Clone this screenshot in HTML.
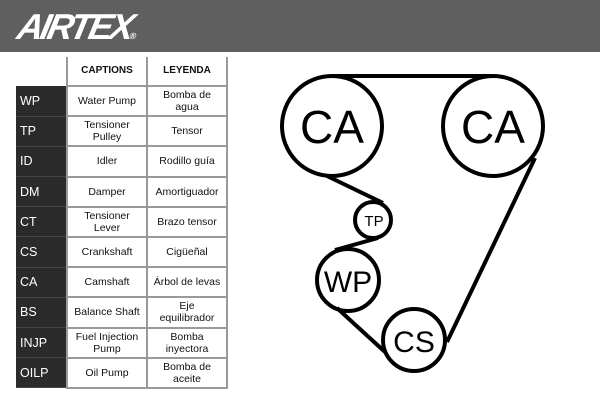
<!DOCTYPE html>
<html><head><style>
*{margin:0;padding:0;box-sizing:border-box}
body{width:600px;height:400px;background:#fff;position:relative;overflow:hidden;font-family:"Liberation Sans",sans-serif}
.band{position:absolute;left:0;top:0;width:600px;height:52px;background:#5f5f5f}
.logo{position:absolute;left:18px;top:6px;color:#fff;font:italic bold 36px "Liberation Sans",sans-serif;letter-spacing:-3px;transform:skewX(-12deg)}
.logo small{font-size:9px;letter-spacing:0}
table{position:absolute;left:16px;top:57px;border-collapse:collapse}
td{height:30.2px;font-size:10.5px;text-align:center;line-height:12px;border-bottom:2px solid #9a9a9a;color:#111}
td.c{width:80px;border-left:2px solid #9a9a9a}
td.l{width:80px;border-left:2px solid #9a9a9a;border-right:2px solid #9a9a9a}
td.k{width:51px;background:#2b2b2b;color:#fff;text-align:left;padding-left:4px;font-size:12.5px;border-bottom:1px solid #444}
tr.h td{height:29px;font-weight:bold;font-size:10px;border-bottom:2px solid #9a9a9a}
tr.h td.k{background:#fff;border-bottom:none}
</style></head><body>
<div class="band"></div>
<div class="logo">AIRTEX<small>®</small></div>
<table>
<tr class="h"><td class="k"></td><td class="c">CAPTIONS</td><td class="l">LEYENDA</td></tr>
<tr><td class="k">WP</td><td class="c">Water Pump</td><td class="l">Bomba de<br>agua</td></tr>
<tr><td class="k">TP</td><td class="c">Tensioner<br>Pulley</td><td class="l">Tensor</td></tr>
<tr><td class="k">ID</td><td class="c">Idler</td><td class="l">Rodillo guía</td></tr>
<tr><td class="k">DM</td><td class="c">Damper</td><td class="l">Amortiguador</td></tr>
<tr><td class="k">CT</td><td class="c">Tensioner<br>Lever</td><td class="l">Brazo tensor</td></tr>
<tr><td class="k">CS</td><td class="c">Crankshaft</td><td class="l">Cigüeñal</td></tr>
<tr><td class="k">CA</td><td class="c">Camshaft</td><td class="l">Árbol de levas</td></tr>
<tr><td class="k">BS</td><td class="c">Balance Shaft</td><td class="l">Eje<br>equilibrador</td></tr>
<tr><td class="k">INJP</td><td class="c">Fuel Injection<br>Pump</td><td class="l">Bomba<br>inyectora</td></tr>
<tr><td class="k">OILP</td><td class="c">Oil Pump</td><td class="l">Bomba de<br>aceite</td></tr>
</table>
<svg width="600" height="400" style="position:absolute;left:0;top:0" fill="none" stroke="#000" stroke-width="4" font-family="Liberation Sans, sans-serif">
<circle cx="332" cy="126" r="50"/>
<circle cx="493" cy="126" r="50"/>
<circle cx="373" cy="220" r="18"/>
<circle cx="348" cy="280" r="31"/>
<circle cx="414" cy="340" r="31"/>
<line x1="332" y1="76" x2="493" y2="76"/>
<line x1="535" y1="158" x2="447" y2="342"/>
<line x1="385" y1="352" x2="337" y2="308"/>
<line x1="335" y1="250" x2="378" y2="238"/>
<line x1="383" y1="203" x2="327" y2="176"/>
<g fill="#000" stroke="none" text-anchor="middle">
<text x="332" y="143" font-size="46">CA</text>
<text x="493" y="143" font-size="46">CA</text>
<text x="374" y="226" font-size="15">TP</text>
<text x="348" y="292" font-size="30">WP</text>
<text x="414" y="352" font-size="30">CS</text>
</g>
</svg>
</body></html>
